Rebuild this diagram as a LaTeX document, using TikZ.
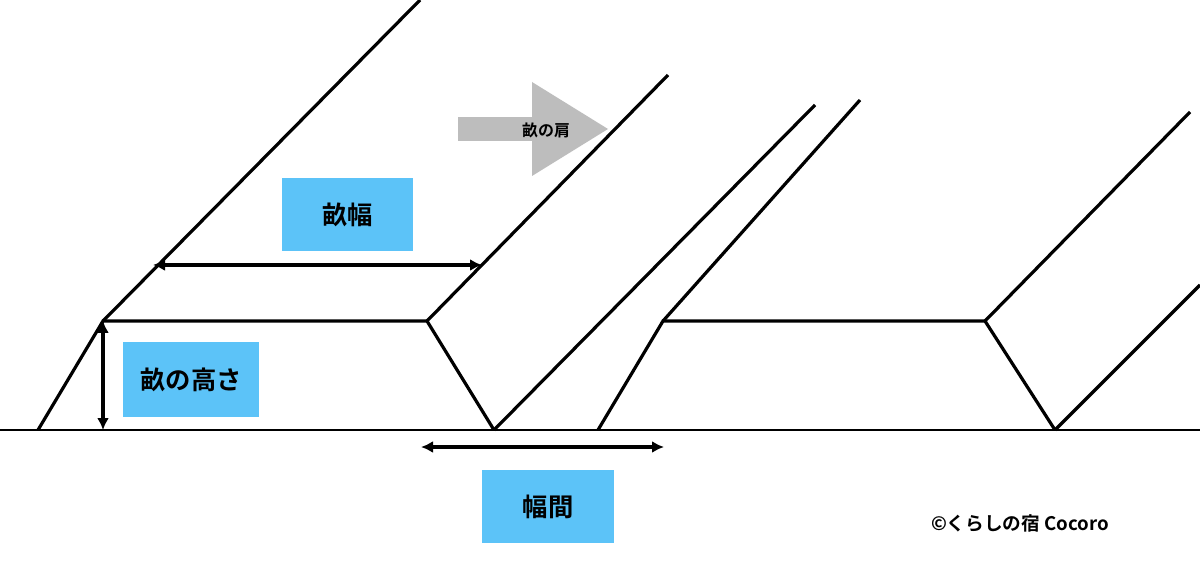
\documentclass[tikz,border=0pt]{standalone}
\usepackage{fontspec}
\setmainfont{Noto Sans CJK JP}[BoldFont={* Bold}]
\usetikzlibrary{arrows.meta}
\definecolor{boxblue}{HTML}{5CC3F8}
\definecolor{arrgray}{HTML}{BDBDBD}
\begin{document}
\begin{tikzpicture}[x=0.75pt,y=-0.75pt,
  ridge/.style={line width=2.4pt,line join=miter},
  dim/.style={line width=2.4pt,{Latex[length=9pt,width=9pt]}-{Latex[length=9pt,width=9pt]}},
  lbl/.style={fill=boxblue,inner sep=0pt,font=\bfseries\fontsize{19}{22}\selectfont}]
\useasboundingbox (0,0) rectangle (1200,577);
\fill[white] (0,0) rectangle (1200,577);
\draw[line width=1pt] (0,430) -- (1200,430);
% ridge 1
\draw[ridge] (38,430) -- (103,321) -- (427,321) -- (494,430);
\draw[ridge] (103,321) -- (420,0);
\draw[ridge] (427,321) -- (668,75);
\draw[ridge] (494,430) -- (815,105);
% ridge 2
\draw[ridge] (598,430) -- (663,321) -- (985,321) -- (1055,430);
\draw[ridge] (663,321) -- (860,100);
\draw[ridge] (985,321) -- (1190,112);
\draw[ridge] (1055,430) -- (1200,285);
% dimension arrows
\coordinate (w1) at (153,265); \coordinate (w2) at (482,265);
\draw[dim] (w1) -- (w2);
\coordinate (h1) at (103,321); \coordinate (h2) at (103,430);
\draw[dim] (h1) -- (h2);
\coordinate (g1) at (421,447); \coordinate (g2) at (664,447);
\draw[dim] (g1) -- (g2);
% labels
\node[lbl,minimum width=98pt,minimum height=55pt] (bw) at (347.5,214.5) {畝幅};
\node[lbl,minimum width=102pt,minimum height=56pt] (bh) at (191,379.5) {畝の高さ};
\node[lbl,minimum width=99pt,minimum height=55pt] (bg) at (548,506.5) {幅間};
% gray arrow
\fill[arrgray] (458,117) rectangle (533,141);
\fill[arrgray] (532,82) -- (608,129) -- (532,176) -- cycle;
\node[font=\bfseries\fontsize{12}{14}\selectfont] (sh) at (546,130) {畝の肩};
\node[font=\bfseries\fontsize{14}{16}\selectfont] (cp) at (1020,523) {©くらしの宿 Cocoro};
\end{tikzpicture}
\end{document}
